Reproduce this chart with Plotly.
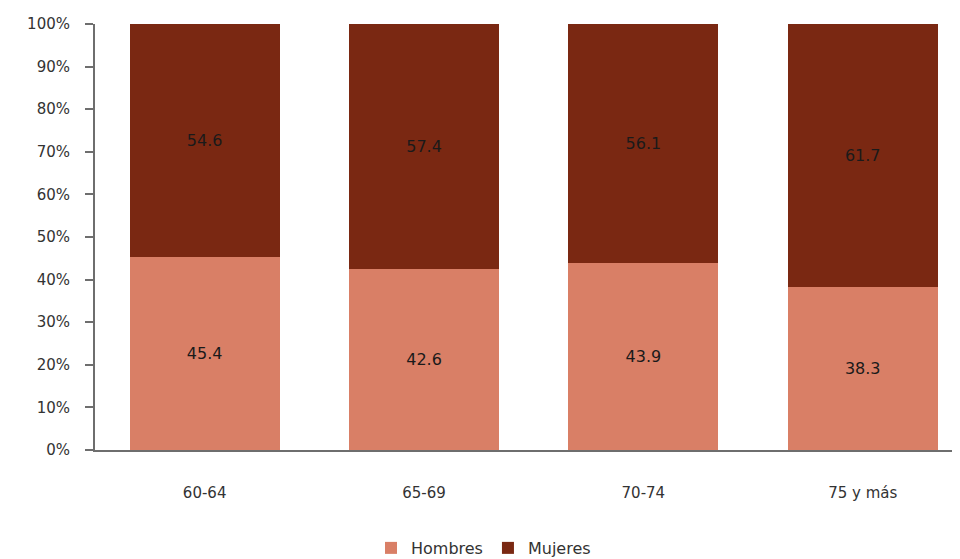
import plotly.graph_objects as go

categories = ["60-64", "65-69", "70-74", "75 y más"]
hombres = [45.4, 42.6, 43.9, 38.3]
mujeres = [54.6, 57.4, 56.1, 61.7]
y_ticks = [0, 10, 20, 30, 40, 50, 60, 70, 80, 90, 100]
y_tick_labels = [f"{v}%" for v in y_ticks]

FONT = "DejaVu Sans"

fig = go.Figure()
fig.add_trace(go.Bar(
    name="Hombres", x=categories, y=hombres,
    marker=dict(color="#D97F66", line=dict(width=0)),
    text=[f"{v:.1f}" for v in hombres], textposition="inside",
    insidetextanchor="middle", textangle=0,
    textfont=dict(family=FONT, size=16, color="#1a1a1a"),
    width=0.684,
))
fig.add_trace(go.Bar(
    name="Mujeres", x=categories, y=mujeres,
    marker=dict(color="#7A2812", line=dict(width=0)),
    text=[f"{v:.1f}" for v in mujeres], textposition="inside",
    insidetextanchor="middle", textangle=0,
    textfont=dict(family=FONT, size=16, color="#1a1a1a"),
    width=0.684,
))

fig.update_layout(
    barmode="stack",
    width=960, height=559,
    margin=dict(l=87, r=0, t=16, b=117),
    paper_bgcolor="white", plot_bgcolor="white",
    font=dict(family=FONT, size=15, color="#333333"),
    uniformtext=dict(minsize=8, mode="show"),
    showlegend=True,
    legend=dict(orientation="h", x=0.445, xanchor="center", y=-0.23, yanchor="middle",
                font=dict(family=FONT, size=16, color="#333333"),
                itemwidth=30, traceorder="normal"),
    xaxis=dict(
        range=[-0.5, 3.48], showgrid=False, zeroline=False,
        showline=True, linecolor="#6e6e6e", linewidth=2,
        ticks="", ticklabelstandoff=28,
        tickfont=dict(family=FONT, size=15, color="#333333"),
    ),
    yaxis=dict(
        range=[0, 100], tickvals=y_ticks, ticktext=y_tick_labels,
        showgrid=False, zeroline=False,
        showline=True, linecolor="#6e6e6e", linewidth=2,
        ticks="outside", ticklen=8, tickcolor="#6e6e6e", tickwidth=1.5,
        ticklabelstandoff=12,
        tickfont=dict(family=FONT, size=15, color="#333333"),
    ),
)

fig.write_html("out.html")
